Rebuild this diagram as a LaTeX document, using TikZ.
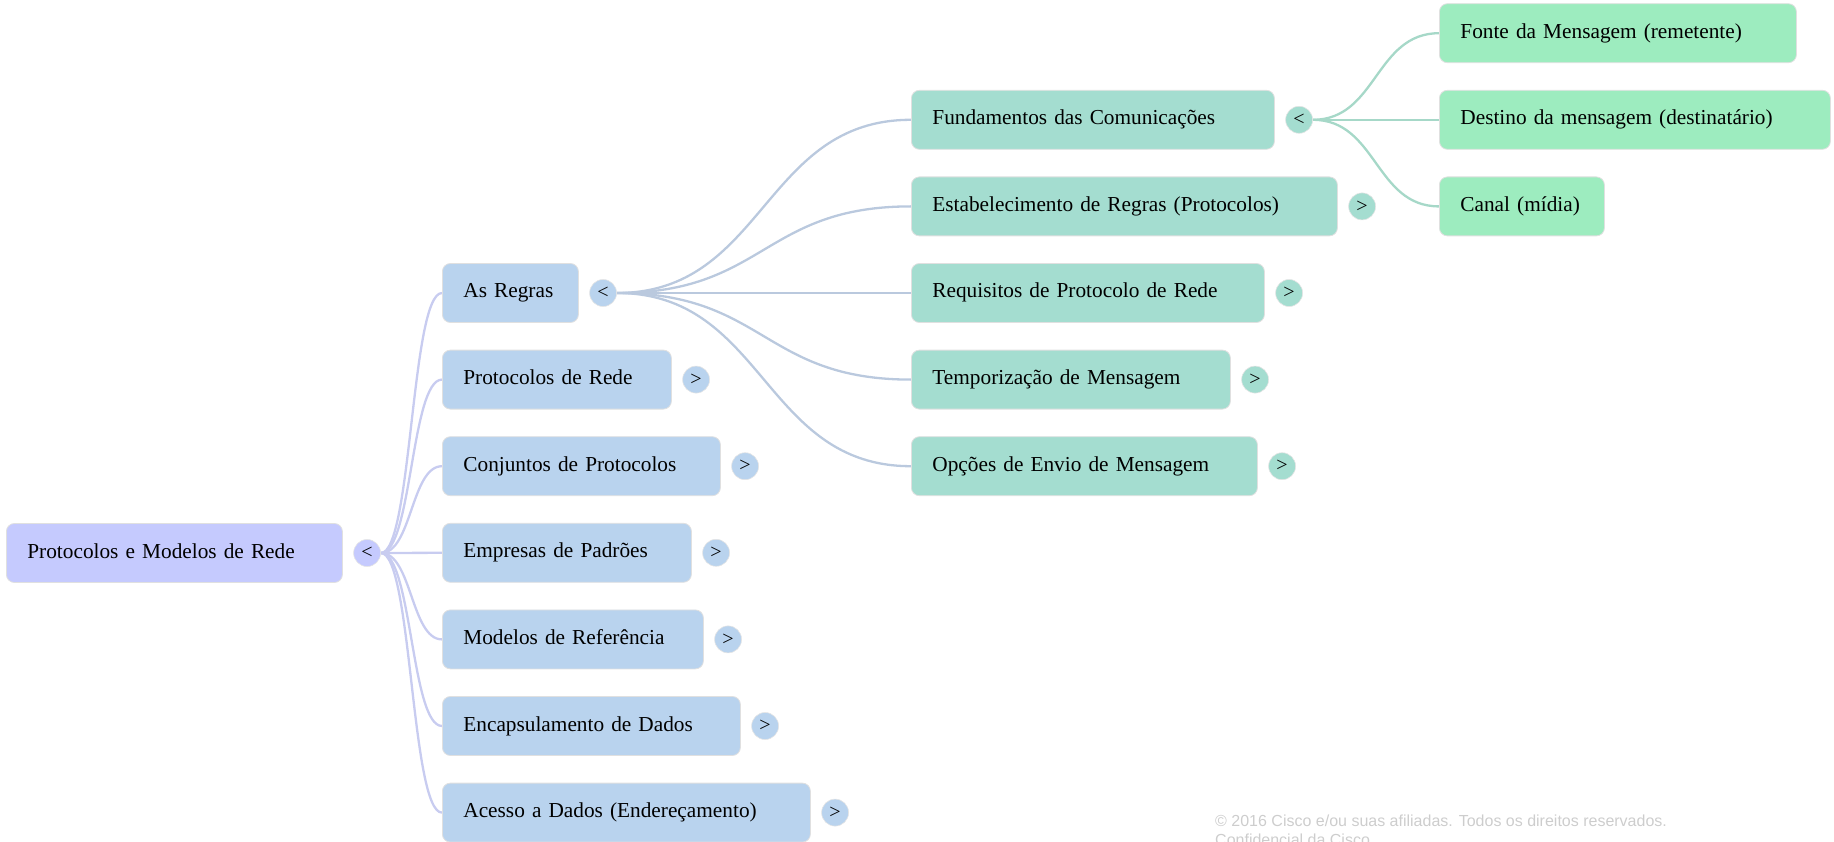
\documentclass[tikz,border=0pt]{standalone}
\usepackage{fontspec}
\setmainfont{Liberation Serif}
\newfontfamily\notefont{Liberation Sans}
\usetikzlibrary{backgrounds}
\usetikzlibrary{positioning}
\tikzstyle{topic} = [draw=black!12, line width=0.8pt, rounded corners=8pt, anchor=west,
  minimum height=59pt, inner xsep=21pt, text height=15pt, text depth=5pt,
  font=\fontsize{21.3}{25}\selectfont]
\tikzstyle{knob} = [circle, draw=black!10, line width=0.6pt, minimum size=27pt,
  inner sep=0pt, font=\fontsize{20}{24}\selectfont]
\tikzstyle{line} = [draw, line width=2.3pt]
\definecolor{color1}{RGB}{197, 202, 254}
\definecolor{color2}{RGB}{185, 211, 238}
\definecolor{color3}{RGB}{164, 221, 208}
\definecolor{color4}{RGB}{157, 236, 191}
\definecolor{link1}{RGB}{200, 204, 240}
\definecolor{link2}{RGB}{186, 201, 222}
\definecolor{link3}{RGB}{166, 216, 200}
\definecolor{note}{RGB}{205, 205, 205}

\begin{document}
\begin{tikzpicture}[x=1pt, y=-1pt]
  \useasboundingbox (0,0) rectangle (1834,842);

  % ============================== Root ========================================

  \node[topic, fill=color1, text width=294pt] (pmr) at (6,553) {Protocolos e Modelos de Rede};
  \node[knob, fill=color1, right=10.5pt of pmr] (pmrk) {<};

  % ============================= Level 1 ======================================

  \node[topic, fill=color2, text width=94pt] (asr) at (442,293) {As Regras};
  \node[knob, fill=color2, right=10.5pt of asr] (asrk) {<};
  \node[topic, fill=color2, text width=187pt] (prd) at (442,379.6) {Protocolos de Rede};
  \node[knob, fill=color2, right=10.5pt of prd] (prdk) {>};
  \node[topic, fill=color2, text width=236pt] (cjp) at (442,466.2) {Conjuntos de Protocolos};
  \node[knob, fill=color2, right=10.5pt of cjp] (cjpk) {>};
  \node[topic, fill=color2, text width=207pt] (epd) at (442,552.8) {Empresas de Padrões};
  \node[knob, fill=color2, right=10.5pt of epd] (epdk) {>};
  \node[topic, fill=color2, text width=219pt] (mdr) at (442,639.4) {Modelos de Referência};
  \node[knob, fill=color2, right=10.5pt of mdr] (mdrk) {>};
  \node[topic, fill=color2, text width=256pt] (ecd) at (442,726) {Encapsulamento de Dados};
  \node[knob, fill=color2, right=10.5pt of ecd] (ecdk) {>};
  \node[topic, fill=color2, text width=326pt] (acd) at (442,812.6) {Acesso a Dados (Endereçamento)};
  \node[knob, fill=color2, right=10.5pt of acd] (acdk) {>};

  % ============================= Level 2 ======================================

  \node[topic, fill=color3, text width=321pt] (fdc) at (911,119.8) {Fundamentos das Comunicações};
  \node[knob, fill=color3, right=10.5pt of fdc] (fdck) {<};
  \node[topic, fill=color3, text width=384pt] (edr) at (911,206.4) {Estabelecimento de Regras (Protocolos)};
  \node[knob, fill=color3, right=10.5pt of edr] (edrk) {>};
  \node[topic, fill=color3, text width=311pt] (rpr) at (911,293) {Requisitos de Protocolo de Rede};
  \node[knob, fill=color3, right=10.5pt of rpr] (rprk) {>};
  \node[topic, fill=color3, text width=277pt] (tdm) at (911,379.6) {Temporização de Mensagem};
  \node[knob, fill=color3, right=10.5pt of tdm] (tdmk) {>};
  \node[topic, fill=color3, text width=304pt] (oem) at (911,466.2) {Opções de Envio de Mensagem};
  \node[knob, fill=color3, right=10.5pt of oem] (oemk) {>};

  % ============================= Level 3 ======================================

  \node[topic, fill=color4, text width=315pt] (fdm) at (1439,33.2) {Fonte da Mensagem (remetente)};
  \node[topic, fill=color4, text width=349pt] (ddm) at (1439,119.8) {Destino da mensagem (destinatário)};
  \node[topic, fill=color4, text width=123pt] (cnl) at (1439,206.4) {Canal (mídia)};

  % ============================= Connect ======================================
  \begin{pgfonlayer}{background}
    \path[line, link1] (pmrk.east) .. controls +(31,0) and +(-31,0) .. (asr.west);
    \path[line, link1] (pmrk.east) .. controls +(31,0) and +(-31,0) .. (prd.west);
    \path[line, link1] (pmrk.east) .. controls +(31,0) and +(-31,0) .. (cjp.west);
    \path[line, link1] (pmrk.east) -- (epd.west);
    \path[line, link1] (pmrk.east) .. controls +(31,0) and +(-31,0) .. (mdr.west);
    \path[line, link1] (pmrk.east) .. controls +(31,0) and +(-31,0) .. (ecd.west);
    \path[line, link1] (pmrk.east) .. controls +(31,0) and +(-31,0) .. (acd.west);

    \path[line, link2] (asrk.east) .. controls +(148,0) and +(-148,0) .. (fdc.west);
    \path[line, link2] (asrk.east) .. controls +(148,0) and +(-148,0) .. (edr.west);
    \path[line, link2] (asrk.east) -- (rpr.west);
    \path[line, link2] (asrk.east) .. controls +(148,0) and +(-148,0) .. (tdm.west);
    \path[line, link2] (asrk.east) .. controls +(148,0) and +(-148,0) .. (oem.west);

    \path[line, link3] (fdck.east) .. controls +(64,0) and +(-64,0) .. (fdm.west);
    \path[line, link3] (fdck.east) -- (ddm.west);
    \path[line, link3] (fdck.east) .. controls +(64,0) and +(-64,0) .. (cnl.west);
  \end{pgfonlayer}

  % the base of this two-line node is its last line
  \node[anchor=base west, inner sep=0pt, align=left, text=note,
    font=\notefont\fontsize{16}{19.3}\selectfont] (cpr) at (1215,845.3)
    {© 2016 Cisco e/ou suas afiliadas. Todos os direitos reservados.\\Confidencial da Cisco};

\end{tikzpicture}
\end{document}
